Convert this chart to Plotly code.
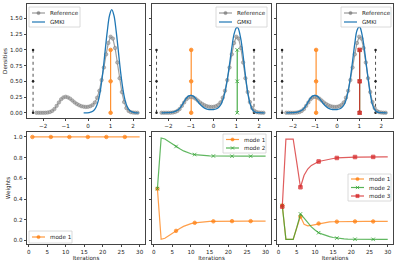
import plotly.graph_objects as go

# ---------------- data ----------------
ref_x = [-2.3, -2.2, -2.1, -2.0, -1.9, -1.8, -1.7, -1.6, -1.5, -1.4, -1.3, -1.2, -1.1, -1.0,
         -0.9, -0.8, -0.7, -0.6, -0.5, -0.4, -0.3, -0.2, -0.1, 0.0, 0.1, 0.2, 0.3, 0.4, 0.5,
         0.6, 0.7, 0.8, 0.9, 1.0, 1.1, 1.2, 1.3, 1.4, 1.5, 1.6, 1.7, 1.8, 1.9, 2.0, 2.1, 2.2]
ref_y = [0.0, 0.0, 0.0, 0.0, 0.001, 0.004, 0.012, 0.03, 0.06, 0.11, 0.165, 0.215, 0.245, 0.255,
         0.245, 0.225, 0.195, 0.165, 0.14, 0.12, 0.105, 0.097, 0.093, 0.095, 0.105, 0.125, 0.165,
         0.24, 0.35, 0.52, 0.72, 0.93, 1.11, 1.21, 1.18, 1.03, 0.80, 0.55, 0.33, 0.17, 0.075,
         0.03, 0.01, 0.003, 0.001, 0.0]

gmki1_x = [-0.2, 0.05, 0.15, 0.25, 0.35, 0.45, 0.55, 0.65, 0.75, 0.85, 0.95, 1.05, 1.15, 1.25,
           1.35, 1.45, 1.55, 1.65, 1.75, 1.85, 1.95, 2.05, 2.25]
gmki1_y = [0.0, 0.004, 0.013, 0.036, 0.088, 0.19, 0.37, 0.63, 0.96, 1.29, 1.545, 1.64, 1.545,
           1.29, 0.96, 0.63, 0.37, 0.19, 0.088, 0.036, 0.013, 0.004, 0.0]

gmki_x = [-2.3, -2.0, -1.8, -1.6, -1.5, -1.4, -1.3, -1.2, -1.1, -1.0, -0.9, -0.8, -0.7, -0.6,
          -0.5, -0.4, -0.3, -0.2, -0.1, 0.0, 0.1, 0.2, 0.3, 0.4, 0.5, 0.6, 0.7, 0.8, 0.9, 1.0,
          1.05, 1.1, 1.2, 1.3, 1.4, 1.5, 1.6, 1.7, 1.8, 1.9, 2.0, 2.25]
gmki2_y = [0.0, 0.002, 0.01, 0.04, 0.07, 0.12, 0.18, 0.235, 0.268, 0.277, 0.265, 0.23, 0.18,
           0.135, 0.10, 0.075, 0.06, 0.052, 0.05, 0.052, 0.06, 0.08, 0.12, 0.20, 0.33, 0.52,
           0.77, 1.03, 1.25, 1.35, 1.36, 1.33, 1.17, 0.91, 0.60, 0.33, 0.15, 0.055, 0.017,
           0.004, 0.001, 0.0]
gmki3_y = [0.0, 0.002, 0.01, 0.04, 0.07, 0.12, 0.18, 0.235, 0.268, 0.277, 0.265, 0.23, 0.18,
           0.135, 0.10, 0.075, 0.06, 0.052, 0.05, 0.052, 0.06, 0.08, 0.12, 0.20, 0.34, 0.55,
           0.82, 1.10, 1.31, 1.367, 1.35, 1.29, 1.10, 0.83, 0.55, 0.30, 0.13, 0.05, 0.015,
           0.004, 0.001, 0.0]

stem_y = [0.0, 0.5, 1.0]
bounds1 = [-2.45]
bounds2 = [-2.52, 1.78]
bounds3 = [-2.49, 1.74]
modes1 = [1.0]
modes2 = [-0.99, 1.04]
modes3 = [-0.95, 1.02, 1.02]

iters = list(range(1, 31))
w1_mode1 = [1.0] * 30
w2_mode1 = [0.5, 0.01, 0.02, 0.045, 0.07, 0.092, 0.115, 0.135, 0.15, 0.162, 0.17, 0.175, 0.178,
            0.181, 0.183, 0.184, 0.185, 0.186, 0.186, 0.186, 0.186, 0.186, 0.186, 0.186, 0.186,
            0.186, 0.186, 0.186, 0.186, 0.186]
w2_mode2 = [0.5, 0.99, 0.98, 0.955, 0.93, 0.908, 0.885, 0.865, 0.85, 0.838, 0.83, 0.825, 0.822,
            0.819, 0.817, 0.816, 0.815, 0.814, 0.814, 0.814, 0.814, 0.814, 0.814, 0.814, 0.814,
            0.814, 0.814, 0.814, 0.814, 0.814]
w3_mode1 = [0.337, 0.01, 0.01, 0.01, 0.125, 0.23, 0.155, 0.14, 0.145, 0.152, 0.163, 0.17, 0.175,
            0.178, 0.18, 0.181, 0.182, 0.183, 0.183, 0.183, 0.183, 0.183, 0.183, 0.183, 0.183,
            0.183, 0.183, 0.183, 0.183, 0.183]
w3_mode2 = [0.337, 0.01, 0.01, 0.01, 0.125, 0.256, 0.215, 0.17, 0.13, 0.10, 0.074, 0.06, 0.046,
            0.036, 0.028, 0.022, 0.018, 0.015, 0.013, 0.012, 0.011, 0.011, 0.01, 0.01, 0.01,
            0.01, 0.01, 0.01, 0.01, 0.01]
w3_mode3 = [0.326, 0.98, 0.98, 0.98, 0.75, 0.514, 0.63, 0.69, 0.725, 0.748, 0.763, 0.77, 0.779,
            0.786, 0.792, 0.797, 0.8, 0.802, 0.804, 0.805, 0.806, 0.806, 0.807, 0.807, 0.807,
            0.807, 0.807, 0.807, 0.807, 0.807]

top_legend_labels = ["Reference", "GMKI"]
mode_labels = ["mode 1", "mode 2", "mode 3"]

# ---------------- style ----------------
W, H = 399, 266
C_REF = "rgba(128,128,128,0.75)"
C_GMKI = "#1f77b4"
C_M = ["#ff7f0e", "#2ca02c", "#d62728"]
M_SYM = ["circle", "x-thin-open", "square"]
FONT = dict(family="DejaVu Sans", size=5.6, color="#222")

fig = go.Figure()

top_axes = [("x", "y"), ("x2", "y2"), ("x3", "y3")]
bot_axes = [("x4", "y4"), ("x5", "y5"), ("x6", "y6")]
gm_sets = [(gmki1_x, gmki1_y), (gmki_x, gmki2_y), (gmki_x, gmki3_y)]
bounds = [bounds1, bounds2, bounds3]
modes = [modes1, modes2, modes3]

for i, (xa, ya) in enumerate(top_axes):
    for b in bounds[i]:
        fig.add_trace(go.Scatter(x=[b] * 3, y=stem_y, xaxis=xa, yaxis=ya, mode="lines+markers",
                                 line=dict(color="#222", width=0.8, dash="dot"),
                                 marker=dict(color="#222", size=2.5), showlegend=False))
    for k, m in enumerate(modes[i]):
        fig.add_trace(go.Scatter(x=[m] * 3, y=stem_y, xaxis=xa, yaxis=ya, mode="lines+markers",
                                 line=dict(color=C_M[k], width=1.2),
                                 marker=dict(color=C_M[k], size=3.5, symbol=M_SYM[k],
                                             line=dict(color=C_M[k], width=1)),
                                 opacity=0.85, showlegend=False))
    fig.add_trace(go.Scatter(x=ref_x, y=ref_y, xaxis=xa, yaxis=ya, mode="lines+markers",
                             name="Reference", line=dict(color=C_REF, width=1.2),
                             marker=dict(color="rgba(170,170,170,0.8)", size=3.5,
                                         line=dict(color="rgba(110,110,110,0.8)", width=0.5)),
                             showlegend=False))
    gx, gy = gm_sets[i]
    fig.add_trace(go.Scatter(x=gx, y=gy, xaxis=xa, yaxis=ya, mode="lines", name="GMKI",
                             line=dict(color=C_GMKI, width=1.3, shape="spline"),
                             showlegend=False))

weights = [[w1_mode1], [w2_mode1, w2_mode2], [w3_mode1, w3_mode2, w3_mode3]]
for i, (xa, ya) in enumerate(bot_axes):
    for k, w in enumerate(weights[i]):
        fig.add_trace(go.Scatter(x=iters, y=w, xaxis=xa, yaxis=ya, mode="lines",
                                 name=mode_labels[k], line=dict(color=C_M[k], width=1.2),
                                 opacity=0.75, showlegend=False))
        fig.add_trace(go.Scatter(x=iters[::5], y=w[::5], xaxis=xa, yaxis=ya, mode="markers",
                                 name=mode_labels[k],
                                 marker=dict(color=C_M[k], size=3.5, symbol=M_SYM[k],
                                             line=dict(color=C_M[k], width=1)),
                                 opacity=0.75, showlegend=False))

xd = [[27 / W, 145 / W], [152 / W, 271 / W], [277 / W, 393 / W]]
yd_top = [1 - 118 / H, 1 - 4 / H]
yd_bot = [1 - 244 / H, 1 - 132 / H]

axis_common = dict(showline=True, mirror=True, linecolor="#444", linewidth=0.8, ticks="outside",
                   ticklen=2.5, tickwidth=0.7, tickcolor="#444", showgrid=False, zeroline=False,
                   tickfont=FONT)

layout = dict(width=W, height=H, margin=dict(l=0, r=0, t=0, b=0),
              paper_bgcolor="white", plot_bgcolor="white", font=FONT, showlegend=False)

for i in range(3):
    n = "" if i == 0 else str(i + 1)
    layout["xaxis" + n] = dict(axis_common, domain=xd[i], anchor="y" + n, range=[-2.72, 2.53],
                               tickvals=[-2, -1, 0, 1, 2])
    layout["yaxis" + n] = dict(axis_common, domain=yd_top, anchor="x" + n, range=[-0.083, 1.73],
                               tickvals=[0, 0.25, 0.5, 0.75, 1.0, 1.25, 1.5],
                               tickformat=".2f", showticklabels=(i == 0))
    m = str(i + 4)
    layout["xaxis" + m] = dict(axis_common, domain=xd[i], anchor="y" + m, range=[-0.45, 31.45],
                               tickvals=[0, 5, 10, 15, 20, 25, 30],
                               title=dict(text="Iterations", font=FONT, standoff=1))
    layout["yaxis" + m] = dict(axis_common, domain=yd_bot, anchor="x" + m, range=[-0.035, 1.048],
                               tickvals=[0, 0.2, 0.4, 0.6, 0.8, 1.0], tickformat=".1f",
                               showticklabels=(i == 0))

layout["yaxis"]["title"] = dict(text="Densities", font=FONT, standoff=2)
layout["yaxis4"]["title"] = dict(text="Weights", font=FONT, standoff=2)

# ---------------- legends (drawn as boxes + samples + text) ----------------
shapes, annotations = [], []


def px(x):
    return x / W


def py(y):
    return 1 - y / H


def add_marker(cx, cy, sym, color):
    r = 1.6
    if sym == "circle":
        shapes.append(dict(type="circle", xref="paper", yref="paper", x0=px(cx - r), x1=px(cx + r),
                           y0=py(cy + r), y1=py(cy - r), fillcolor=color, line=dict(color=color, width=0.6)))
    elif sym == "square":
        shapes.append(dict(type="rect", xref="paper", yref="paper", x0=px(cx - r), x1=px(cx + r),
                           y0=py(cy + r), y1=py(cy - r), fillcolor=color, line=dict(color=color, width=0.6)))
    else:
        for d in (1, -1):
            shapes.append(dict(type="line", xref="paper", yref="paper", x0=px(cx - r), x1=px(cx + r),
                               y0=py(cy - d * r), y1=py(cy + d * r), line=dict(color=color, width=0.9)))


def add_legend(x0, x1, y0, y1, items, line_x0, text_x):
    shapes.append(dict(type="rect", xref="paper", yref="paper", x0=px(x0), x1=px(x1),
                       y0=py(y1), y1=py(y0), fillcolor="rgba(255,255,255,0.85)",
                       line=dict(color="#d0d0d0", width=0.8), layer="above"))
    for (label, color, sym, yy) in items:
        shapes.append(dict(type="line", xref="paper", yref="paper", x0=px(line_x0), x1=px(line_x0 + 13),
                           y0=py(yy), y1=py(yy), line=dict(color=color, width=1.2)))
        if sym:
            add_marker(line_x0 + 6.5, yy, sym, color)
        annotations.append(dict(text=label, xref="paper", yref="paper", x=px(text_x), y=py(yy),
                                xanchor="left", yanchor="middle", showarrow=False, font=FONT))


ref_items = lambda ya, yb: [(top_legend_labels[0], "rgba(128,128,128,0.8)", "circle", ya),
                            (top_legend_labels[1], C_GMKI, None, yb)]
add_legend(29, 80, 7, 27, ref_items(13, 22), 32, 48)
add_legend(216, 267, 7, 27, ref_items(13, 22), 219, 235)
add_legend(341, 391, 7, 27, ref_items(13, 22), 344, 360)

mode_item = lambda k, yy: (mode_labels[k], "rgba(255,127,14,0.8)" if k == 0 else
                           ("rgba(44,160,44,0.8)" if k == 1 else "rgba(214,39,40,0.8)"), M_SYM[k], yy)
add_legend(29, 72, 231, 243, [mode_item(0, 237)], 32, 48)
add_legend(223, 266, 134, 153, [mode_item(0, 139.5), mode_item(1, 148)], 226, 242)
add_legend(348, 391, 174, 201, [mode_item(0, 179), mode_item(1, 187.5), mode_item(2, 196)], 351, 367)

layout["shapes"] = shapes
layout["annotations"] = annotations

fig.update_layout(**layout)
fig.write_html("out.html", config={"displayModeBar": False},
               post_script="document.body.style.margin='0px';")
